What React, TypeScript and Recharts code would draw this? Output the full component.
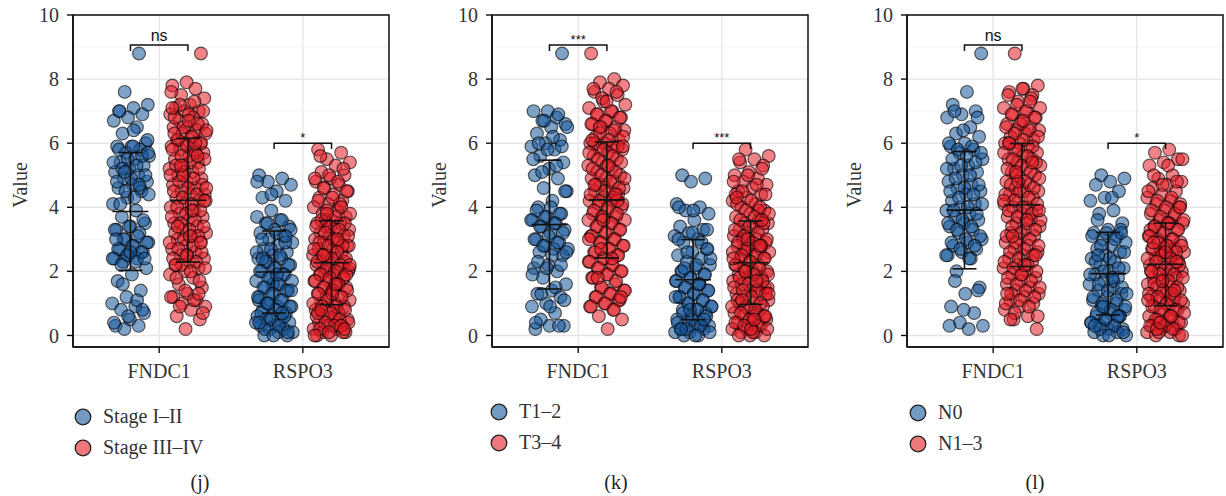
import React from 'react';
import {
  ScatterChart,
  Scatter,
  XAxis,
  YAxis,
  CartesianGrid,
  ReferenceArea,
} from 'recharts';

// ---------- data ----------
const genes = ['FNDC1', 'RSPO3'];
const panelCaptions = ['(j)', '(k)', '(l)'];
const legendLabels = [
  ['Stage I–II', 'Stage III–IV'],
  ['T1–2', 'T3–4'],
  ['N0', 'N1–3'],
];
const sigLabels = [
  ['ns', '*'],
  ['***', '***'],
  ['ns', '*'],
];
const yTicks = [0, 2, 4, 6, 8, 10];
const yMinorTicks = [1, 3, 5, 7, 9];

// mean per panel: [FNDC1, RSPO3]
const meanBlue = [
  [3.87, 1.98],
  [3.46, 1.74],
  [3.91, 1.93],
];
const meanRed = [
  [4.22, 2.27],
  [4.23, 2.27],
  [4.07, 2.22],
];
const sdBlue = [
  [1.84, 1.28],
  [2.01, 1.25],
  [1.83, 1.29],
];
const sdRed = [
  [1.93, 1.31],
  [1.81, 1.3],
  [1.92, 1.29],
];
const bracketY = [9.06, 6.0];
const bracketDrop = 0.18;

// panel (j)
const jFndc1Blue = [8.8, 7.6, 7.2, 7.1, 7.0, 6.9, 6.8, 6.7, 6.5, 6.3, 6.0, 5.9, 5.9, 5.8, 5.7, 5.6, 5.5, 5.4, 5.3, 5.2, 5.1, 5.0, 4.9, 4.8, 4.7, 4.6, 4.5, 4.3, 4.1, 3.9, 3.7, 3.5, 3.4, 3.3, 3.2, 3.0, 2.9, 2.8, 2.7, 2.6, 2.5, 2.4, 2.4, 2.3, 2.1, 1.9, 1.7, 1.4, 1.2, 1.0, 0.9, 0.8, 0.7, 0.5, 0.3, 0.3, 0.2,
  6.1, 5.9, 5.8, 5.6, 5.5, 5.4, 5.3, 5.2, 5.0, 4.9, 4.8, 4.6, 4.5, 4.4, 4.3, 4.1, 3.6, 3.4, 3.3, 3.1, 3.0, 2.9, 2.8, 2.7, 2.6, 2.5, 2.4, 2.3, 2.2, 2.4, 2.6, 3.0, 4.7, 5.1, 5.7, 6.4, 7.0, 0.8, 0.6, 0.4, 1.1, 1.6];
const jFndc1Red = [8.8, 7.9, 7.8, 7.7, 7.5, 7.4, 7.2, 7.1, 7.0, 7.0, 6.9, 6.8, 6.7, 6.6, 6.5, 6.5, 6.4, 6.3, 6.3, 6.2, 6.1, 6.0, 6.0, 5.9, 5.8, 5.8, 5.7, 5.6, 5.5, 5.4, 5.3, 5.2, 5.1, 5.0, 4.9, 4.8, 4.7, 4.6, 4.5, 4.4, 4.4, 4.3, 4.2, 4.1, 4.0, 3.9, 3.8, 3.7, 3.6, 3.5, 3.4, 3.3, 3.2, 3.1, 3.0, 2.9, 2.8, 2.7, 2.6, 2.5, 2.4, 2.3, 2.2, 2.1, 2.0, 1.9, 1.8, 1.6, 1.5, 1.3, 1.2, 1.1, 1.0, 0.9, 0.8, 0.6, 0.5, 0.2,
  7.6, 7.3, 7.2, 7.0, 6.9, 6.8, 6.6, 6.5, 6.4, 6.2, 6.1, 6.0, 5.9, 5.8, 5.7, 5.6, 5.5, 5.4, 5.3, 5.2, 5.1, 5.0, 4.9, 4.8, 4.7, 4.6, 4.5, 4.4, 4.3, 4.2, 4.1, 4.0, 3.9, 3.8, 3.7, 3.6, 3.5, 3.4, 3.3, 3.2, 3.1, 3.0, 2.9, 2.8, 2.7, 2.6, 2.5, 2.4, 2.3, 2.2, 2.1, 2.0, 1.8, 1.7, 1.4, 1.2, 1.1, 0.9, 0.7, 6.7, 6.3, 5.6, 5.0, 4.6, 3.9, 3.4, 2.9, 2.5, 7.1, 6.0, 5.3, 4.2, 3.1, 2.2, 1.3];
const jRspo3Blue = [5.0, 4.9, 4.8, 4.7, 4.5, 4.3, 4.2, 3.9, 3.7, 3.6, 3.5, 3.4, 3.3, 3.2, 3.1, 3.0, 2.9, 2.8, 2.7, 2.6, 2.5, 2.4, 2.4, 2.3, 2.2, 2.1, 2.0, 1.9, 1.8, 1.7, 1.6, 1.5, 1.4, 1.3, 1.2, 1.1, 1.0, 0.9, 0.9, 0.8, 0.7, 0.6, 0.6, 0.5, 0.5, 0.4, 0.3, 0.3, 0.2, 0.2, 0.1, 0.1, 0.0, 0.0, 1.6, 1.1,
  3.6, 3.5, 3.3, 3.2, 3.0, 2.9, 2.7, 2.6, 2.5, 2.3, 2.2, 2.1, 2.0, 1.9, 1.8, 1.7, 1.6, 1.5, 1.4, 1.3, 1.2, 1.1, 1.0, 0.9, 0.8, 0.7, 0.6, 0.5, 0.4, 0.3, 0.2, 0.1, 0.0, 0.4, 0.7, 1.0, 1.4, 1.9, 2.4, 3.1, 4.4, 4.8];
const jRspo3Red = [5.8, 5.7, 5.5, 5.4, 5.3, 5.1, 5.0, 4.9, 4.8, 4.7, 4.6, 4.5, 4.4, 4.3, 4.2, 4.1, 4.0, 3.9, 3.8, 3.7, 3.6, 3.5, 3.5, 3.4, 3.3, 3.3, 3.2, 3.1, 3.1, 3.0, 2.9, 2.9, 2.8, 2.7, 2.7, 2.6, 2.5, 2.5, 2.4, 2.3, 2.3, 2.2, 2.2, 2.1, 2.0, 2.0, 1.9, 1.9, 1.8, 1.7, 1.7, 1.6, 1.5, 1.5, 1.4, 1.3, 1.2, 1.2, 1.1, 1.0, 1.0, 0.9, 0.8, 0.8, 0.7, 0.6, 0.5, 0.5, 0.4, 0.3, 0.3, 0.2, 0.2, 0.1, 0.1, 0.0, 0.0, 4.1, 3.6, 2.8, 0.6,
  5.6, 5.2, 5.0, 4.9, 4.8, 4.6, 4.5, 4.3, 4.2, 4.0, 3.9, 3.8, 3.7, 3.6, 3.5, 3.4, 3.4, 3.3, 3.2, 3.1, 3.0, 2.9, 2.8, 2.8, 2.7, 2.6, 2.5, 2.4, 2.4, 2.3, 2.2, 2.1, 2.1, 2.0, 1.9, 1.8, 1.8, 1.7, 1.6, 1.5, 1.4, 1.4, 1.3, 1.2, 1.1, 1.0, 0.9, 0.9, 0.8, 0.7, 0.6, 0.5, 0.4, 0.4, 0.3, 0.2, 0.1, 0.1, 0.0, 3.0, 2.5, 1.9, 1.3, 0.7, 0.3, 3.8, 2.2, 1.6, 0.8, 0.2];

// panel (k)
const kFndc1Blue = [8.8, 7.0, 7.0, 6.8, 6.7, 6.6, 6.5, 6.3, 6.1, 6.0, 5.9, 5.8, 5.6, 5.4, 5.2, 5.0, 4.9, 4.6, 4.5, 4.2, 4.0, 3.8, 3.7, 3.6, 3.5, 3.4, 3.3, 3.2, 3.0, 2.9, 2.8, 2.7, 2.7, 2.6, 2.5, 2.2, 2.1, 2.0, 1.8, 1.6, 1.4, 1.3, 1.2, 1.0, 0.9, 0.7, 0.5, 0.3, 0.3, 0.2,
  6.9, 6.7, 6.5, 6.2, 6.0, 5.9, 5.8, 5.5, 5.3, 5.1, 4.5, 4.0, 3.9, 3.8, 3.7, 3.6, 3.5, 3.4, 3.2, 3.1, 3.0, 2.9, 2.8, 2.6, 2.5, 2.3, 2.2, 2.1, 1.9, 1.5, 1.3, 1.1, 0.9, 0.4, 0.3];
const kFndc1Red = [8.8, 8.0, 7.9, 7.8, 7.7, 7.6, 7.5, 7.3, 7.1, 7.0, 6.9, 6.8, 6.7, 6.6, 6.5, 6.5, 6.4, 6.3, 6.2, 6.1, 6.0, 6.0, 5.9, 5.8, 5.8, 5.7, 5.6, 5.5, 5.4, 5.3, 5.2, 5.1, 5.0, 4.9, 4.9, 4.8, 4.7, 4.6, 4.5, 4.5, 4.4, 4.3, 4.2, 4.2, 4.1, 4.0, 3.9, 3.8, 3.7, 3.7, 3.6, 3.5, 3.4, 3.3, 3.2, 3.1, 3.0, 2.9, 2.8, 2.7, 2.6, 2.5, 2.4, 2.3, 2.2, 2.1, 2.0, 1.9, 1.8, 1.6, 1.5, 1.4, 1.3, 1.2, 1.1, 1.0, 0.9, 0.8, 0.6, 0.5, 0.2,
  7.7, 7.6, 7.4, 7.2, 7.0, 6.9, 6.8, 6.7, 6.6, 6.4, 6.3, 6.2, 6.1, 6.0, 5.9, 5.8, 5.7, 5.6, 5.5, 5.4, 5.3, 5.2, 5.1, 5.0, 4.9, 4.8, 4.7, 4.6, 4.5, 4.4, 4.3, 4.2, 4.1, 4.0, 3.9, 3.8, 3.7, 3.6, 3.5, 3.4, 3.3, 3.2, 3.1, 3.0, 2.9, 2.8, 2.7, 2.6, 2.5, 2.4, 2.3, 2.2, 2.1, 2.0, 1.9, 1.8, 1.7, 1.5, 1.4, 1.3, 1.2, 1.1, 1.0, 0.9, 0.8, 6.5, 5.9, 5.3, 4.7, 4.2, 3.6, 3.0, 2.4, 1.8, 1.2, 7.3, 6.1, 4.4, 2.7];
const kRspo3Blue = [5.0, 4.9, 4.8, 4.1, 4.0, 3.9, 3.8, 3.6, 3.4, 3.3, 3.2, 3.1, 3.0, 2.9, 2.7, 2.6, 2.5, 2.4, 2.3, 2.2, 2.1, 2.0, 1.9, 1.8, 1.7, 1.6, 1.5, 1.4, 1.3, 1.2, 1.1, 1.0, 0.9, 0.8, 0.8, 0.7, 0.6, 0.5, 0.4, 0.4, 0.3, 0.3, 0.2, 0.2, 0.1, 0.1, 0.0, 0.0,
  3.3, 3.2, 3.0, 2.9, 2.6, 2.4, 2.2, 2.0, 1.9, 1.8, 1.7, 1.6, 1.5, 1.4, 1.3, 1.2, 1.1, 1.0, 0.9, 0.8, 0.7, 0.6, 0.5, 0.4, 0.3, 0.2, 0.1, 0.0, 0.2, 0.5, 0.8, 1.2, 1.6, 2.1, 2.7, 3.9, 4.0];
const kRspo3Red = [5.8, 5.6, 5.5, 5.4, 5.3, 5.1, 5.0, 4.9, 4.8, 4.7, 4.6, 4.5, 4.4, 4.3, 4.2, 4.1, 4.0, 3.9, 3.8, 3.7, 3.6, 3.5, 3.5, 3.4, 3.3, 3.3, 3.2, 3.1, 3.0, 3.0, 2.9, 2.8, 2.8, 2.7, 2.6, 2.6, 2.5, 2.4, 2.4, 2.3, 2.2, 2.2, 2.1, 2.0, 2.0, 1.9, 1.8, 1.8, 1.7, 1.6, 1.6, 1.5, 1.4, 1.3, 1.3, 1.2, 1.1, 1.0, 1.0, 0.9, 0.8, 0.7, 0.7, 0.6, 0.5, 0.4, 0.4, 0.3, 0.2, 0.2, 0.1, 0.1, 0.0, 0.0, 4.4, 3.9, 2.7, 1.5, 0.6,
  5.5, 5.2, 5.0, 4.8, 4.7, 4.5, 4.4, 4.2, 4.1, 4.0, 3.9, 3.8, 3.7, 3.6, 3.5, 3.4, 3.3, 3.2, 3.1, 3.0, 2.9, 2.9, 2.8, 2.7, 2.6, 2.5, 2.5, 2.4, 2.3, 2.2, 2.1, 2.0, 1.9, 1.9, 1.8, 1.7, 1.6, 1.5, 1.4, 1.4, 1.3, 1.2, 1.1, 1.0, 0.9, 0.9, 0.8, 0.7, 0.6, 0.5, 0.4, 0.3, 0.3, 0.2, 0.1, 0.0, 3.6, 3.0, 2.4, 1.7, 1.1, 0.6, 0.2, 4.3, 2.8, 2.0, 1.3, 0.5];

// panel (l)
const lFndc1Blue = [8.8, 7.6, 7.2, 7.0, 6.9, 6.8, 6.5, 6.3, 6.2, 6.0, 5.9, 5.8, 5.7, 5.5, 5.3, 5.2, 5.1, 5.0, 4.8, 4.7, 4.6, 4.5, 4.4, 4.2, 4.1, 4.0, 3.9, 3.8, 3.7, 3.6, 3.5, 3.4, 3.3, 3.2, 3.0, 2.9, 2.8, 2.7, 2.6, 2.5, 2.4, 2.0, 1.5, 1.3, 0.9, 0.7, 0.4, 0.3, 0.2,
  7.0, 6.8, 6.4, 6.0, 5.9, 5.8, 5.7, 5.6, 5.5, 5.4, 5.3, 5.2, 5.0, 4.9, 4.7, 4.6, 4.5, 4.4, 4.3, 4.1, 4.0, 3.9, 3.8, 3.6, 3.5, 3.4, 3.3, 3.1, 3.0, 2.9, 2.8, 2.7, 2.5, 2.4, 1.7, 1.4, 0.8, 0.3];
const lFndc1Red = [8.8, 7.8, 7.7, 7.6, 7.5, 7.3, 7.1, 7.0, 6.9, 6.8, 6.7, 6.6, 6.5, 6.4, 6.4, 6.3, 6.2, 6.1, 6.0, 6.0, 5.9, 5.8, 5.7, 5.6, 5.5, 5.5, 5.4, 5.3, 5.2, 5.1, 5.0, 4.9, 4.8, 4.7, 4.6, 4.5, 4.5, 4.4, 4.3, 4.2, 4.1, 4.0, 4.0, 3.9, 3.8, 3.7, 3.6, 3.5, 3.4, 3.3, 3.2, 3.1, 3.0, 2.9, 2.8, 2.7, 2.6, 2.5, 2.4, 2.3, 2.2, 2.1, 2.0, 1.9, 1.8, 1.7, 1.6, 1.5, 1.4, 1.3, 1.2, 1.1, 1.0, 0.9, 0.8, 0.6, 0.5, 0.2,
  7.7, 7.5, 7.4, 7.2, 7.1, 7.0, 6.9, 6.8, 6.6, 6.5, 6.4, 6.3, 6.2, 6.1, 6.0, 5.9, 5.8, 5.7, 5.6, 5.5, 5.4, 5.3, 5.2, 5.1, 5.0, 4.9, 4.8, 4.7, 4.6, 4.5, 4.4, 4.3, 4.2, 4.1, 4.0, 3.9, 3.8, 3.7, 3.6, 3.5, 3.4, 3.3, 3.2, 3.1, 3.0, 2.9, 2.8, 2.7, 2.6, 2.5, 2.4, 2.3, 2.2, 2.1, 2.0, 1.9, 1.8, 1.7, 1.6, 1.5, 1.4, 1.3, 1.2, 1.1, 1.0, 0.9, 0.7, 0.6, 6.7, 6.0, 5.4, 4.8, 4.2, 3.6, 3.1, 2.5, 1.9, 1.3, 7.3, 5.1, 3.9, 2.2, 0.5];
const lRspo3Blue = [5.0, 4.9, 4.8, 4.7, 4.5, 4.3, 4.2, 3.9, 3.8, 3.5, 3.3, 3.2, 3.1, 3.0, 2.9, 2.8, 2.7, 2.6, 2.5, 2.4, 2.3, 2.2, 2.1, 2.0, 1.9, 1.8, 1.7, 1.6, 1.5, 1.4, 1.3, 1.2, 1.1, 1.0, 0.9, 0.8, 0.7, 0.6, 0.6, 0.5, 0.4, 0.3, 0.3, 0.2, 0.2, 0.1, 0.1, 0.0, 0.0,
  4.3, 3.6, 3.3, 3.2, 3.1, 3.0, 2.8, 2.6, 2.4, 2.3, 2.1, 2.0, 1.9, 1.7, 1.6, 1.5, 1.4, 1.2, 1.1, 1.0, 0.9, 0.8, 0.7, 0.6, 0.5, 0.4, 0.3, 0.2, 0.1, 0.0, 0.3, 0.6, 0.9, 1.3, 1.8, 2.5, 3.2];
const lRspo3Red = [5.8, 5.7, 5.5, 5.4, 5.3, 5.0, 4.9, 4.8, 4.7, 4.6, 4.5, 4.4, 4.3, 4.2, 4.1, 4.0, 3.9, 3.8, 3.7, 3.6, 3.5, 3.5, 3.4, 3.3, 3.2, 3.1, 3.0, 3.0, 2.9, 2.8, 2.7, 2.7, 2.6, 2.6, 2.5, 2.4, 2.3, 2.3, 2.2, 2.1, 2.0, 2.0, 1.9, 1.8, 1.8, 1.7, 1.6, 1.5, 1.5, 1.4, 1.3, 1.2, 1.2, 1.1, 1.0, 0.9, 0.9, 0.8, 0.7, 0.6, 0.5, 0.5, 0.4, 0.3, 0.3, 0.2, 0.2, 0.1, 0.1, 0.0, 0.0, 2.6, 3.3, 1.1, 0.4,
  5.5, 5.3, 5.0, 4.8, 4.7, 4.5, 4.3, 4.2, 4.1, 4.0, 3.9, 3.8, 3.7, 3.6, 3.5, 3.4, 3.3, 3.2, 3.1, 3.0, 2.9, 2.8, 2.8, 2.7, 2.6, 2.5, 2.4, 2.4, 2.3, 2.2, 2.1, 2.0, 1.9, 1.9, 1.8, 1.7, 1.6, 1.5, 1.4, 1.3, 1.3, 1.2, 1.1, 1.0, 0.9, 0.8, 0.8, 0.7, 0.6, 0.5, 0.4, 0.3, 0.3, 0.2, 0.1, 0.0, 3.5, 2.9, 2.3, 1.7, 1.1, 0.6, 0.2, 4.0, 2.6, 2.0, 1.4, 0.4];

const panelBlue = [
  [jFndc1Blue, jRspo3Blue],
  [kFndc1Blue, kRspo3Blue],
  [lFndc1Blue, lRspo3Blue],
];
const panelRed = [
  [jFndc1Red, jRspo3Red],
  [kFndc1Red, kRspo3Red],
  [lFndc1Red, lRspo3Red],
];

// ---------- layout / style ----------
const SERIF = '"Liberation Serif", "DejaVu Serif", serif';
const SANS = '"Liberation Sans", Arial, sans-serif';
const BLUE = '#165699';
const RED = '#E41E26';
const INK = '#111';
const DODGE = 0.2;
const JITTER = 0.13;
const chartLefts = [0, 419, 834];
const legendPos = [
  { x: 74, y: 401 },
  { x: 490, y: 396 },
  { x: 909, y: 397 },
];
const captionX = [200, 616, 1035];

// deterministic spread for jitter (golden-ratio low-discrepancy sequence)
const spread = (i: number, seed: number) => (((i + 1) * 0.6180339887 + seed) % 1) - 0.5;

function makePoints(values: number[], center: number, seed: number) {
  return values.map((y, i) => ({ x: center + spread(i, seed) * 2 * JITTER, y }));
}

const dot = (color: string) => (p: any) => (
  <circle
    cx={p.cx}
    cy={p.cy}
    r={6.4}
    fill={color}
    fillOpacity={0.55}
    stroke="#000"
    strokeOpacity={0.6}
    strokeWidth={1.2}
  />
);

// horizontal tick centred on the point (for caps / mean)
const hTick = (half: number) => (p: any) => (
  <line x1={p.cx - half} x2={p.cx + half} y1={p.cy} y2={p.cy} stroke={INK} strokeWidth={1.6} />
);
const noShape = () => <g />;
const textShape = (label: string) => (p: any) => {
  const small = label !== 'ns';
  return (
    <text
      x={p.cx}
      y={p.cy - (small ? 1 : 4)}
      textAnchor="middle"
      fill={INK}
      fontSize={small ? 13 : 16}
      fontFamily={SANS}
    >
      {label}
    </text>
  );
};

function errorBar(cx: number, mean: number, sd: number, key: string) {
  return [
    <Scatter
      key={key + 'range'}
      data={[
        { x: cx, y: mean - sd },
        { x: cx, y: mean + sd },
      ]}
      line={{ stroke: INK, strokeWidth: 1.6 }}
      lineType="joint"
      shape={hTick(12)}
      isAnimationActive={false}
    />,
    <Scatter key={key + 'mean'} data={[{ x: cx, y: mean }]} shape={hTick(18)} isAnimationActive={false} />,
  ];
}

function bracket(g: number, y: number, label: string, key: string) {
  const x1 = g - DODGE;
  const x2 = g + DODGE;
  return [
    <Scatter
      key={key + 'line'}
      data={[
        { x: x1, y: y - bracketDrop },
        { x: x1, y },
        { x: x2, y },
        { x: x2, y: y - bracketDrop },
      ]}
      line={{ stroke: INK, strokeWidth: 1.5 }}
      lineType="joint"
      shape={noShape}
      isAnimationActive={false}
    />,
    <Scatter key={key + 'lab'} data={[{ x: g, y }]} shape={textShape(label)} isAnimationActive={false} />,
  ];
}

function Panel({ idx }: { idx: number }) {
  const series: any[] = [];
  genes.forEach((_, gi) => {
    const g = gi + 1;
    series.push(
      <Scatter
        key={`b${gi}`}
        data={makePoints(panelBlue[idx][gi], g - DODGE, 0.11 * (idx + 1) + gi * 0.37)}
        shape={dot(BLUE)}
        isAnimationActive={false}
      />
    );
    series.push(
      <Scatter
        key={`r${gi}`}
        data={makePoints(panelRed[idx][gi], g + DODGE, 0.23 * (idx + 1) + gi * 0.29)}
        shape={dot(RED)}
        isAnimationActive={false}
      />
    );
  });
  const overlays: any[] = [];
  genes.forEach((_, gi) => {
    const g = gi + 1;
    overlays.push(...errorBar(g - DODGE, meanBlue[idx][gi], sdBlue[idx][gi], `eb${gi}`));
    overlays.push(...errorBar(g + DODGE, meanRed[idx][gi], sdRed[idx][gi], `er${gi}`));
    overlays.push(...bracket(g, bracketY[gi], sigLabels[idx][gi], `br${gi}`));
  });

  return (
    <div style={{ position: 'absolute', left: chartLefts[idx], top: 0 }}>
      <ScatterChart width={392} height={390} margin={{ top: 15, right: 3, bottom: 3, left: 0 }}>
        <CartesianGrid
          horizontalValues={yMinorTicks}
          vertical={false}
          stroke="#F1F1F1"
          strokeWidth={0.8}
        />
        <CartesianGrid
          horizontalValues={yTicks}
          verticalValues={[1, 2]}
          stroke="#E6E6E6"
          strokeWidth={1.4}
        />
        <XAxis
          dataKey="x"
          type="number"
          domain={[0.4, 2.6]}
          ticks={[1, 2]}
          allowDataOverflow
          tickFormatter={(v: number) => genes[v - 1]}
          height={40}
          tickSize={6}
          tickMargin={11}
          axisLine={{ stroke: INK, strokeWidth: 1.6 }}
          tickLine={{ stroke: INK, strokeWidth: 1.4 }}
          tick={{ fill: '#333', fontSize: 20, fontFamily: SERIF }}
        />
        <YAxis
          dataKey="y"
          type="number"
          domain={[-0.36, 10]}
          ticks={yTicks}
          allowDataOverflow
          width={73}
          tickSize={6}
          tickMargin={8}
          axisLine={{ stroke: INK, strokeWidth: 1.6 }}
          tickLine={{ stroke: INK, strokeWidth: 1.4 }}
          tick={{ fill: '#333', fontSize: 20, fontFamily: SERIF }}
          label={{
            content: () => (
              <text
                x={20}
                y={185}
                transform="rotate(-90, 20, 185)"
                textAnchor="middle"
                dominantBaseline="central"
                fill="#333"
                fontSize={20}
                fontFamily={SERIF}
              >
                Value
              </text>
            ),
          }}
        />
        <ReferenceArea
          x1={0.4}
          x2={2.6}
          y1={-0.36}
          y2={10}
          fill="none"
          fillOpacity={0}
          stroke={INK}
          strokeWidth={1.5}
          ifOverflow="visible"
        />
        {series}
        {overlays}
      </ScatterChart>
    </div>
  );
}

function LegendBlock({ idx }: { idx: number }) {
  const colors = [BLUE, RED];
  return (
    <div style={{ position: 'absolute', left: legendPos[idx].x, top: legendPos[idx].y }}>
      {legendLabels[idx].map((lab, i) => (
        <div
          key={lab}
          style={{ display: 'flex', alignItems: 'center', height: 31, fontFamily: SERIF, fontSize: 20, color: '#333' }}
        >
          <svg width={18} height={18} style={{ marginRight: 11 }}>
            <circle cx={9} cy={9} r={7.8} fill={colors[i]} fillOpacity={0.6} stroke="#222" strokeWidth={1.3} />
          </svg>
          <span>{lab}</span>
        </div>
      ))}
    </div>
  );
}

export default function App() {
  return (
    <div
      style={{
        position: 'absolute',
        left: 0,
        top: 0,
        width: 1226,
        height: 496,
        background: '#fff',
        overflow: 'hidden',
      }}
    >
      {[0, 1, 2].map((i) => (
        <Panel key={`p${i}`} idx={i} />
      ))}
      {[0, 1, 2].map((i) => (
        <LegendBlock key={`l${i}`} idx={i} />
      ))}
      {panelCaptions.map((c, i) => (
        <div
          key={c}
          style={{
            position: 'absolute',
            left: captionX[i] - 30,
            width: 60,
            top: 470,
            textAlign: 'center',
            fontFamily: SERIF,
            fontSize: 20,
            color: '#222',
            lineHeight: '24px',
          }}
        >
          {c}
        </div>
      ))}
    </div>
  );
}
